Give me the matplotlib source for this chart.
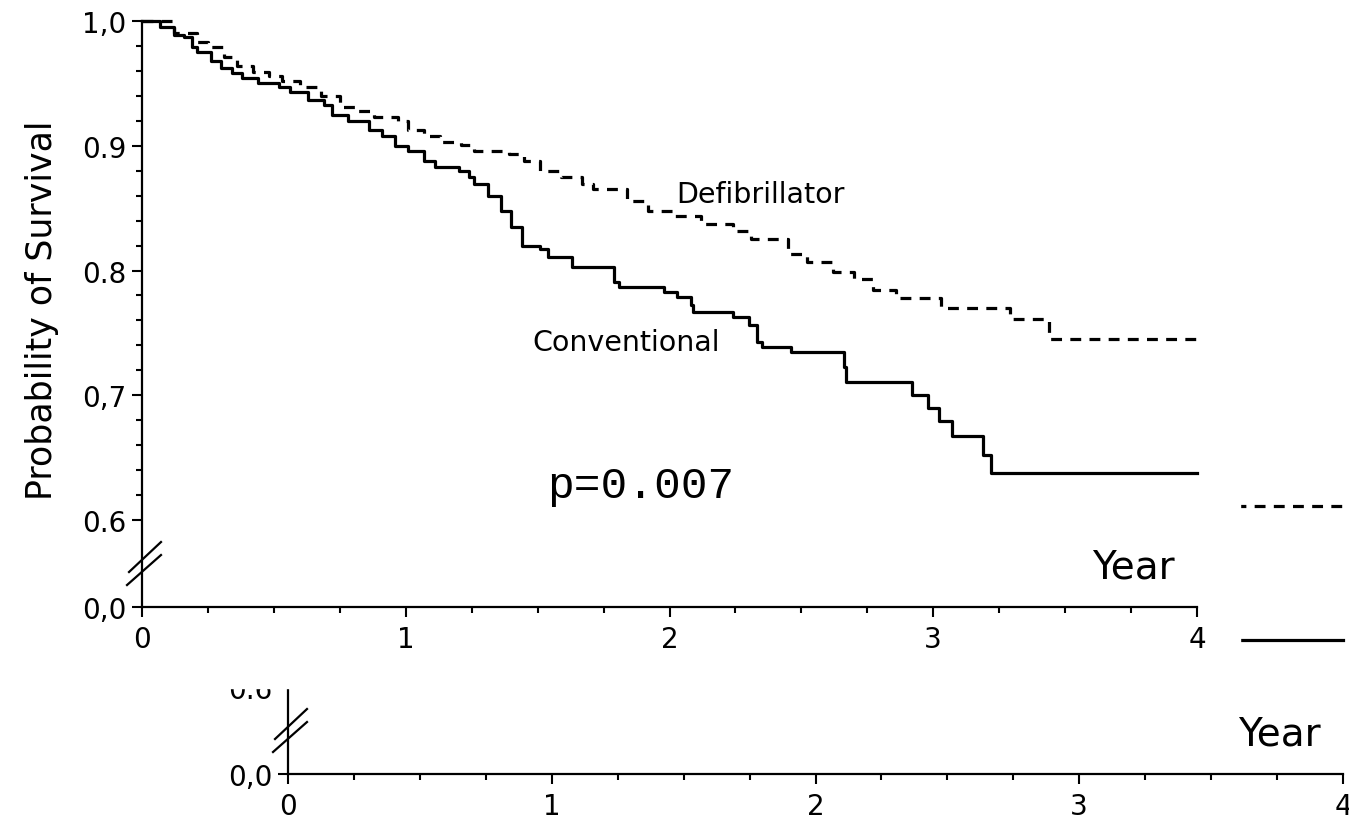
import numpy as np
import matplotlib.pyplot as plt
from matplotlib.patches import Rectangle

# survival curves (years, probability)
conv_t = [0, 0.07, 0.12, 0.16, 0.19, 0.21, 0.26, 0.30, 0.34, 0.38,
          0.44, 0.52, 0.56, 0.63, 0.69, 0.72, 0.78, 0.86, 0.91, 0.96,
          1.01, 1.07, 1.11, 1.20, 1.24, 1.26, 1.31, 1.36, 1.40, 1.44,
          1.51, 1.54, 1.63, 1.79, 1.81, 1.98, 2.03, 2.08, 2.09, 2.24,
          2.30, 2.33, 2.35, 2.46, 2.66, 2.67, 2.92, 2.98, 3.02, 3.07,
          3.19, 3.22, 4.0]
conv_s = [1.0, 0.995, 0.989, 0.987, 0.979, 0.975, 0.968, 0.962, 0.958, 0.954,
          0.950, 0.947, 0.943, 0.937, 0.933, 0.925, 0.920, 0.913, 0.908, 0.900,
          0.896, 0.888, 0.883, 0.880, 0.875, 0.869, 0.860, 0.848, 0.835, 0.820,
          0.817, 0.811, 0.803, 0.791, 0.787, 0.783, 0.779, 0.772, 0.767, 0.763,
          0.756, 0.743, 0.739, 0.735, 0.723, 0.711, 0.700, 0.690, 0.679, 0.667,
          0.652, 0.638, 0.638]

defib_t = [0, 0.12, 0.21, 0.25, 0.31, 0.36, 0.42, 0.48, 0.53, 0.60,
           0.68, 0.75, 0.82, 0.88, 0.97, 1.01, 1.07, 1.13, 1.21, 1.26,
           1.33, 1.39, 1.45, 1.51, 1.59, 1.67, 1.71, 1.84, 1.92, 2.02,
           2.12, 2.24, 2.31, 2.45, 2.52, 2.62, 2.70, 2.77, 2.86, 3.03,
           3.29, 3.44, 4.0]
defib_s = [1.0, 0.990, 0.983, 0.979, 0.971, 0.964, 0.959, 0.956, 0.952, 0.947,
           0.940, 0.931, 0.928, 0.923, 0.920, 0.913, 0.908, 0.903, 0.901, 0.896,
           0.896, 0.893, 0.888, 0.880, 0.875, 0.869, 0.865, 0.856, 0.848, 0.844,
           0.837, 0.832, 0.825, 0.813, 0.807, 0.799, 0.793, 0.784, 0.778, 0.770,
           0.761, 0.745, 0.745]

ytick_vals = [1.0, 0.9, 0.8, 0.7, 0.6]
ytick_labels = ['1,0', '0.9', '0.8', '0,7', '0.6', '0,0']
xtick_vals = [0, 1, 2, 3, 4]

Y_BOT = 0.5303  # broken axis: "0,0" sits here
W, H = 1349, 828


def draw_chart(fig, x0, y0, z, ghost=False):
    # x0, y0 = pixel position of the axis origin (from top-left)
    ax = fig.add_axes([x0 / W, 1 - y0 / H, 1055 / W, 586 / H], zorder=z)
    ax.patch.set_visible(False)

    ax.step(defib_t, defib_s, where='post', color='black', lw=2.3,
            dashes=(3.4, 2.6), clip_on=False)
    ax.step(conv_t, conv_s, where='post', color='black', lw=2.3,
            clip_on=False)

    ax.set_xlim(0, 4)
    ax.set_ylim(Y_BOT, 1.0)
    ax.set_xticks(xtick_vals)
    ax.set_xticks(np.arange(0, 4.01, 0.25), minor=True)
    ax.set_yticks(ytick_vals + [Y_BOT], labels=ytick_labels)
    ax.set_yticks([0.6 + 0.02 * i for i in range(1, 20) if i % 5], minor=True)

    for s in ['top', 'right']:
        ax.spines[s].set_visible(False)
    for s in ['left', 'bottom']:
        ax.spines[s].set_linewidth(1.6)
    ax.tick_params(which='major', length=7, width=1.5, labelsize=20, pad=4)
    ax.tick_params(which='minor', length=4.5, width=1.5)
    ax.tick_params(axis='x', which='major', pad=6)

    # axis break marks
    ax.plot([-0.0123, 0.018], [0.0597, 0.1109], color='black', lw=1.6,
            transform=ax.transAxes, clip_on=False)
    ax.plot([-0.0142, 0.018], [0.0375, 0.0887], color='black', lw=1.6,
            transform=ax.transAxes, clip_on=False)

    ax.text(3.917, 0.5543, 'Year', fontsize=28, ha='right')
    if ghost:
        # the rest of the ghost copy is covered anyway
        return ax

    ax.set_ylabel('Probability of Survival', fontsize=25)
    ax.yaxis.set_label_coords(-0.079, 0.508)
    ax.text(2.025, 0.855, 'Defibrillator', fontsize=20.5)
    ax.text(1.479, 0.736, 'Conventional', fontsize=20.5)
    ax.text(1.536, 0.6184, 'p=0.007', fontsize=32, family='Liberation Mono')
    return ax


fig = plt.figure(figsize=(W / 100, H / 100), dpi=100)

# shifted ghost copy from the scan, mostly hidden behind a white sheet
draw_chart(fig, 288, 775, 0, ghost=True)
fig.add_artist(Rectangle((0, 1 - 689 / H), 1240 / W, 689 / H,
                         transform=fig.transFigure, color='white', zorder=1))
draw_chart(fig, 142, 608, 2)

fig.savefig('out.png', dpi=100)
